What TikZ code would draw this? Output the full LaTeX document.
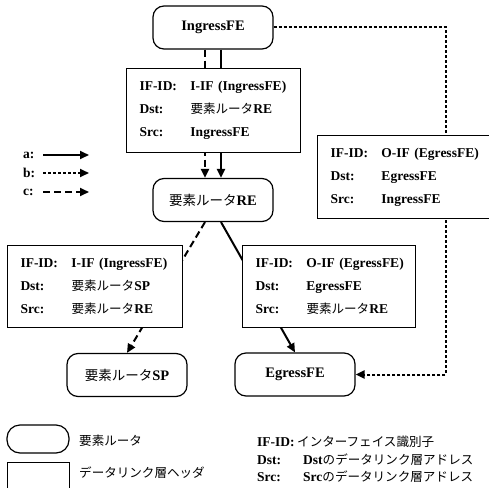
\documentclass[tikz,border=0pt]{standalone}
\usepackage{fontspec}
\setmainfont{Liberation Serif}
\newfontfamily\jpfont[Scale=0.93]{Noto Sans CJK JP}
\newcommand{\ja}[1]{{\jpfont\mdseries #1}}
% three rows of a link-layer header
\newcommand{\hdrrows}[3]{%
  \mbox{\makebox[51pt][l]{IF-ID:}#1}\\
  \mbox{\makebox[51pt][l]{Dst:}#2}\\
  \mbox{\makebox[51pt][l]{Src:}#3}}
\usetikzlibrary{arrows.meta}

\tikzset{
  router/.style={draw,line width=1.2pt,rounded corners=11pt,
    minimum width=120pt,minimum height=43pt,
    font=\fontsize{14.5}{17}\selectfont\bfseries},
  hdrbox/.style={draw,fill=white,line width=1pt,anchor=north west,
    inner xsep=13pt,inner ysep=0pt,align=left,
    font=\fontsize{13.5}{23}\selectfont\bfseries},
  conn/.style={line width=2pt,-{Triangle[length=9pt,width=8pt]}},
  dashpat/.style={dash pattern=on 7pt off 4pt},
  dotpat/.style={dash pattern=on 3pt off 2pt},
  keytext/.style={anchor=west,inner sep=0pt,
    font=\fontsize{13.5}{16}\selectfont\bfseries},
}

\begin{document}
\begin{tikzpicture}[x=1pt,y=-1pt]
  \useasboundingbox (0,0) rectangle (489,487);

  % routers
  \node[router] (ing) at (213,27.5) {IngressFE};
  \node[router] (re) at (213,200) {\ja{要素ルータ}RE};
  \node[router] (sp) at (127,375) {\ja{要素ルータ}SP};
  \node[router] (eg) at (295,374.5) {EgressFE};
  \coordinate (bend) at (446,0);

  % paths a, b, c
  \draw[conn,dashpat] ([xshift=-8pt]ing.south) -- ([xshift=-8pt]re.north);
  \draw[conn] ([xshift=8pt]ing.south) -- ([xshift=8pt]re.north);
  \draw[conn,dashpat] ([xshift=-8pt]re.south) -- (sp.north);
  \draw[conn] ([xshift=8pt]re.south) -- (eg.north);
  \draw[conn,dotpat] (ing.east) -- (ing.east -| bend)
    -- (eg.east -| bend) -- (eg.east);

  % headers on each hop
  \node[hdrbox,text width=148pt,minimum height=84pt] (hdr1) at (126,68)
    {\hdrrows{I-IF (IngressFE)}{\ja{要素ルータ}RE}{IngressFE}};
  \node[hdrbox,text width=149pt,minimum height=82pt] (hdr2) at (7,245)
    {\hdrrows{I-IF (IngressFE)}{\ja{要素ルータ}SP}{\ja{要素ルータ}RE}};
  \node[hdrbox,text width=147pt,minimum height=82pt] (hdr3) at (242,245)
    {\hdrrows{O-IF (EgressFE)}{EgressFE}{\ja{要素ルータ}RE}};
  \node[hdrbox,text width=149pt,minimum height=83pt] (hdr4) at (317,135)
    {\hdrrows{O-IF (EgressFE)}{EgressFE}{IngressFE}};

  % path key
  \node[keytext] (keya) at (23,155) {a:};
  \node[keytext] (keyb) at (23,173) {b:};
  \node[keytext] (keyc) at (23,192) {c:};
  \coordinate (a0) at (43,155); \coordinate (a1) at (89,155);
  \coordinate (b0) at (43,173); \coordinate (b1) at (89,173);
  \coordinate (c0) at (43,192); \coordinate (c1) at (89,192);
  \draw[conn] (a0) -- (a1);
  \draw[conn,dotpat] (b0) -- (b1);
  \draw[conn,dashpat] (c0) -- (c1);

  % shape key
  \node[draw,line width=1.2pt,rounded corners=13pt,minimum width=62pt,
    minimum height=28pt] (keyrouter) at (38,439) {};
  \node[draw,line width=1pt,anchor=north west,minimum width=62pt,
    minimum height=34pt] (keyhdr) at (7,462) {};
  \node[keytext] (keyrtext) at (79,441) {\ja{要素ルータ}};
  \node[keytext] (keyhtext) at (79,473) {\ja{データリンク層ヘッダ}};

  % field key
  \node[keytext] (keyifid) at (257,442) {IF-ID:};
  \node[keytext] (keyifidt) at (297,442) {\ja{インターフェイス識別子}};
  \node[keytext] (keydst) at (257,460) {Dst:};
  \node[keytext] (keydstt) at (303,460) {Dst\ja{のデータリンク層アドレス}};
  \node[keytext] (keysrc) at (257,477) {Src:};
  \node[keytext] (keysrct) at (303,477) {Src\ja{のデータリンク層アドレス}};
\end{tikzpicture}
\end{document}
